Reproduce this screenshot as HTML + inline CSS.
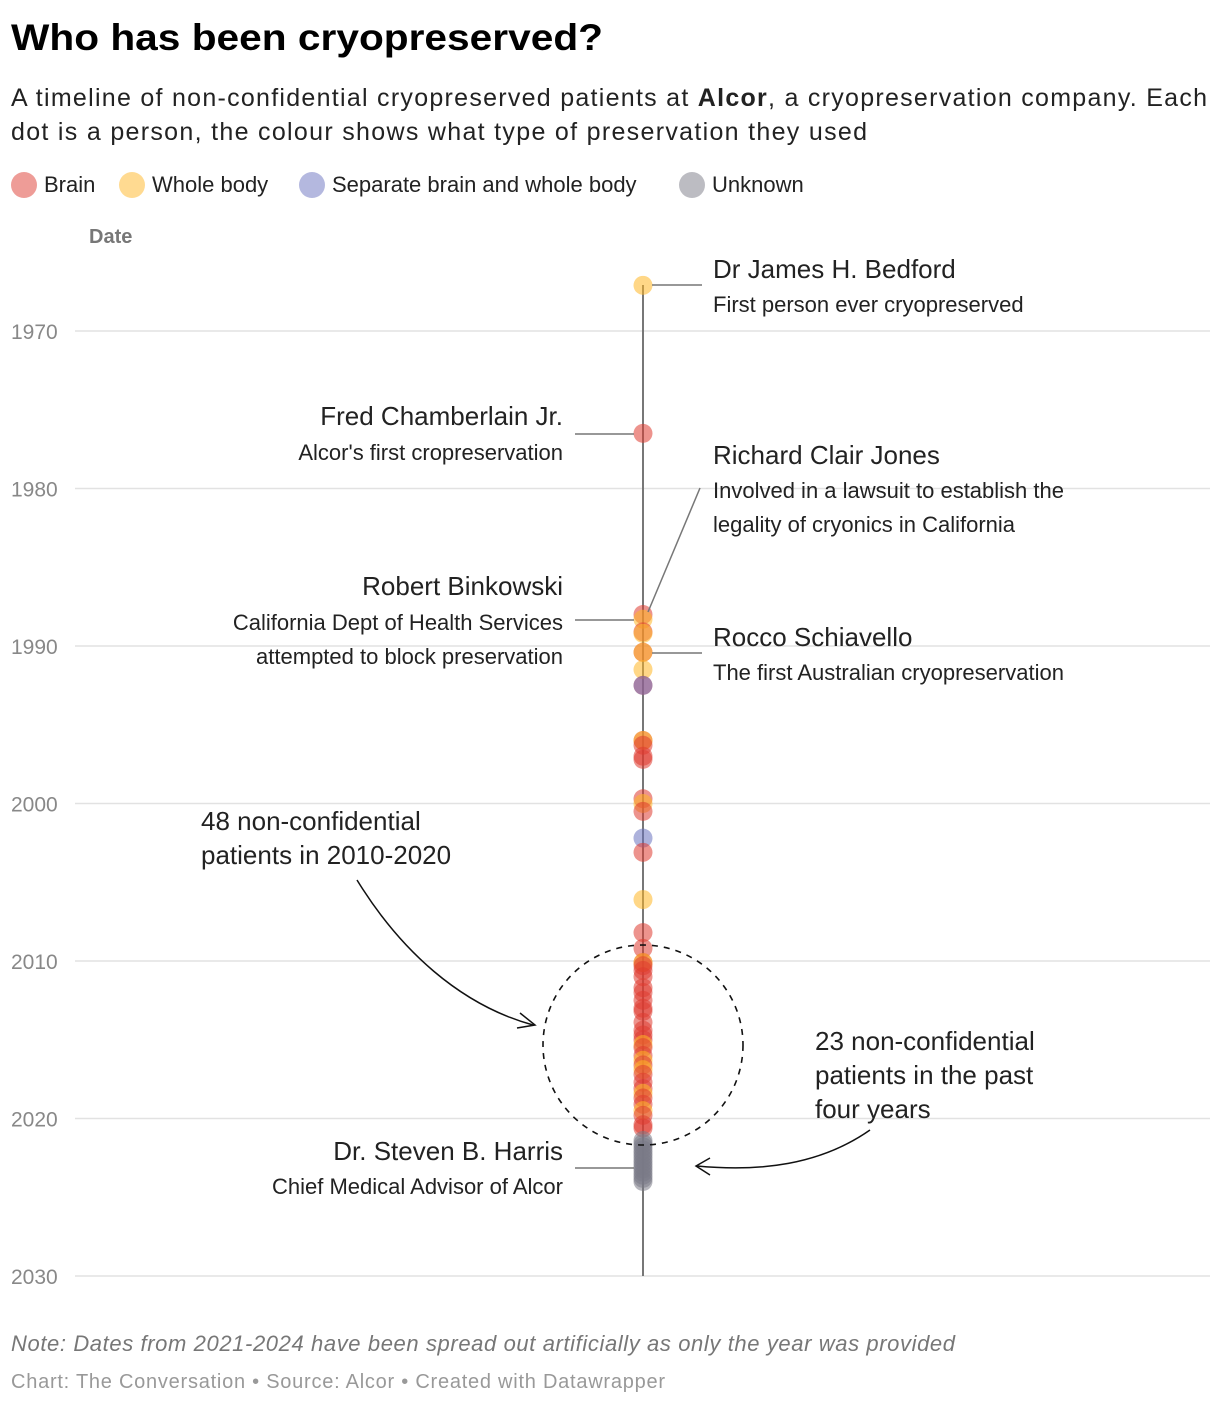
<!DOCTYPE html>
<html><head><meta charset="utf-8">
<style>
body{margin:0;background:#fff;width:1220px;height:1406px;overflow:hidden;font-family:"Liberation Sans",sans-serif;}
svg text{font-family:"Liberation Sans",sans-serif;}
</style></head>
<body>
<svg id="chart" width="1220" height="1406">
<text x="11" y="50" font-size="37" font-weight="bold" fill="#000" textLength="592" lengthAdjust="spacingAndGlyphs">Who has been cryopreserved?</text>
<text x="11" y="106" font-size="25" fill="#222" textLength="1196" lengthAdjust="spacing">A timeline of non-confidential cryopreserved patients at <tspan font-weight="bold">Alcor</tspan>, a cryopreservation company. Each</text>
<text x="11" y="140" font-size="25" fill="#222" textLength="856" lengthAdjust="spacing">dot is a person, the colour shows what type of preservation they used</text>
<g id="legend"></g>
<text x="89" y="243" font-size="20" font-weight="bold" fill="#777">Date</text>
<g id="grid"></g>
<line x1="643" y1="285" x2="643" y2="1276" stroke="#777" stroke-width="2"/>
<g id="dots"></g>
<g id="annos" fill="#222">
<line x1="652" y1="285" x2="702" y2="285" stroke="#777" stroke-width="1.5"/>
<text x="713" y="278" font-size="26">Dr James H. Bedford</text>
<text x="713" y="312" font-size="22">First person ever cryopreserved</text>
<line x1="575" y1="434" x2="634" y2="434" stroke="#777" stroke-width="1.5"/>
<text x="563" y="425" font-size="26" text-anchor="end">Fred Chamberlain Jr.</text>
<text x="563" y="460" font-size="22" text-anchor="end">Alcor's first cropreservation</text>
<line x1="700" y1="488" x2="648" y2="612" stroke="#777" stroke-width="1.5"/>
<text x="713" y="464" font-size="26">Richard Clair Jones</text>
<text x="713" y="498" font-size="22">Involved in a lawsuit to establish the</text>
<text x="713" y="532" font-size="22">legality of cryonics in California</text>
<line x1="575" y1="620" x2="634" y2="620" stroke="#777" stroke-width="1.5"/>
<text x="563" y="595" font-size="26" text-anchor="end">Robert Binkowski</text>
<text x="563" y="630" font-size="22" text-anchor="end">California Dept of Health Services</text>
<text x="563" y="664" font-size="22" text-anchor="end">attempted to block preservation</text>
<line x1="652" y1="653" x2="702" y2="653" stroke="#777" stroke-width="1.5"/>
<text x="713" y="646" font-size="26">Rocco Schiavello</text>
<text x="713" y="680" font-size="22">The first Australian cryopreservation</text>
<line x1="575" y1="1168" x2="634" y2="1168" stroke="#777" stroke-width="1.5"/>
<text x="563" y="1160" font-size="26" text-anchor="end">Dr. Steven B. Harris</text>
<text x="563" y="1194" font-size="22" text-anchor="end">Chief Medical Advisor of Alcor</text>
<text x="201" y="830" font-size="26">48 non-confidential</text>
<text x="201" y="864" font-size="26">patients in 2010-2020</text>
<text x="815" y="1050" font-size="26">23 non-confidential</text>
<text x="815" y="1084" font-size="26">patients in the past</text>
<text x="815" y="1118" font-size="26">four years</text>
<circle cx="643" cy="1045" r="100" fill="none" stroke="#111" stroke-width="1.6" stroke-dasharray="6,6"/>
<path d="M357,880 C400,950 460,1005 533,1025" fill="none" stroke="#111" stroke-width="1.5"/>
<path d="M520,1013 L535,1025 L517,1028" fill="none" stroke="#111" stroke-width="1.5"/>
<path d="M870,1130 C820,1165 760,1172 697,1166" fill="none" stroke="#111" stroke-width="1.5"/>
<path d="M710,1158 L696,1166 L710,1175" fill="none" stroke="#111" stroke-width="1.5"/>
</g>
<text x="11" y="1351" font-size="22" font-style="italic" fill="#777" textLength="944" lengthAdjust="spacing">Note: Dates from 2021-2024 have been spread out artificially as only the year was provided</text>
<text x="11" y="1388" font-size="20" fill="#999" textLength="654" lengthAdjust="spacing">Chart: The Conversation • Source: Alcor • Created with Datawrapper</text>
</svg>
<script>
const tickYears=[1970,1980,1990,2000,2010,2020,2030];
const typeNames=["Brain","Whole body","Separate brain and whole body","Unknown"];
const typeColors=["#de3a30","#ffb624","#6a72c0","#7a7a86"];
const years=[1967.1,1976.5,1988.0,1988.3,1989.1,1989.2,1990.4,1990.4,1991.5,1992.5,1992.5,1996.0,1996.0,1996.3,1997.0,1997.2,1999.7,2000.0,2000.5,2002.2,2003.1,2006.1,2008.2,2009.2,2010.1,2010.1,2010.3,2010.6,2011.0,2011.7,2012.0,2012.5,2013.0,2013.2,2013.9,2014.4,2014.7,2015.0,2015.3,2015.5,2016.0,2016.3,2016.6,2016.9,2017.2,2017.7,2018.1,2018.4,2018.7,2019.1,2019.5,2019.8,2020.4,2020.6,2021.4,2021.6,2021.8,2022.0,2022.2,2022.4,2022.6,2022.8,2023.0,2023.2,2023.4,2023.6,2023.8,2024.0];
const types=["W","B","B","W","B","W","B","W","W","B","S","B","W","B","B","B","B","W","B","S","B","W","B","B","B","W","B","B","B","B","B","B","B","B","B","B","B","B","W","B","B","W","B","W","B","B","B","W","B","B","W","B","B","B","U","U","U","U","U","U","U","U","U","U","U","U","U","U"];
const NS="http://www.w3.org/2000/svg";
function yScale(v){return 331+(v-1970)*(1276-331)/60;}
const grid=document.getElementById('grid');
tickYears.forEach(t=>{
  const l=document.createElementNS(NS,'line');
  l.setAttribute('x1',75);l.setAttribute('x2',1210);
  l.setAttribute('y1',yScale(t));l.setAttribute('y2',yScale(t));
  l.setAttribute('stroke','#e2e2e2');l.setAttribute('stroke-width','1.5');
  
  
  grid.appendChild(l);
  const tx=document.createElementNS(NS,'text');
  tx.setAttribute('x',11);tx.setAttribute('y',yScale(t)+8);
  tx.setAttribute('font-size','21');tx.setAttribute('fill','#888');
  tx.textContent=t;
  
  
  grid.appendChild(tx);
});
const codeIdx={B:0,W:1,S:2,U:3};
const dots=document.getElementById('dots');
years.forEach((y,i)=>{
  const c=document.createElementNS(NS,'circle');
  c.setAttribute('cx',643);c.setAttribute('cy',yScale(y));c.setAttribute('r',9.5);
  c.setAttribute('fill',typeColors[codeIdx[types[i]]]);c.setAttribute('fill-opacity','0.55');
  
  
  dots.appendChild(c);
});
const legend=document.getElementById('legend');
const legX=[24,132,312,692];
typeNames.forEach((n,i)=>{
  const c=document.createElementNS(NS,'circle');
  c.setAttribute('cx',legX[i]);c.setAttribute('cy',185);c.setAttribute('r',13);
  c.setAttribute('fill',typeColors[i]);c.setAttribute('fill-opacity','0.5');
  
  
  legend.appendChild(c);
  const t=document.createElementNS(NS,'text');
  t.setAttribute('x',legX[i]+20);t.setAttribute('y',192);t.setAttribute('font-size','22');t.setAttribute('fill','#222');
  t.textContent=n;
  
  
  legend.appendChild(t);
});
</script>
</body></html>
